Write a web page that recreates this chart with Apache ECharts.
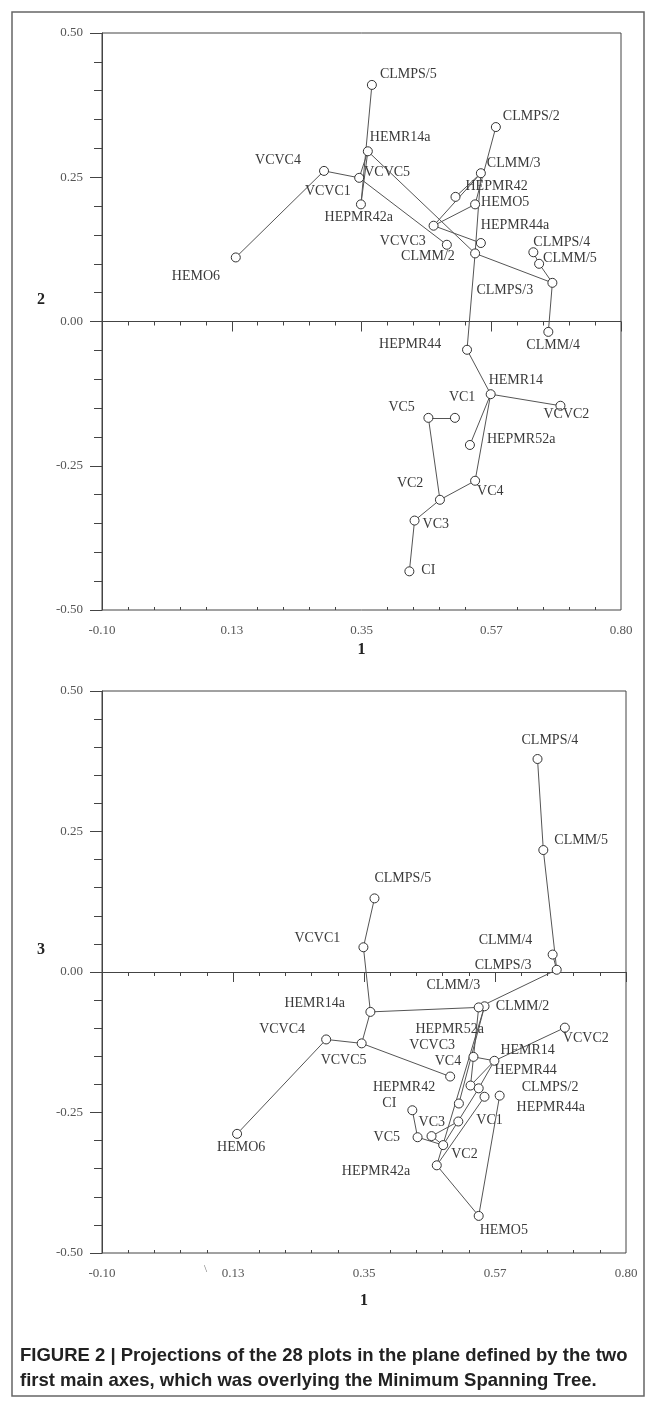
<!DOCTYPE html>
<html>
<head>
<meta charset="utf-8">
<script src="https://cdn.jsdelivr.net/npm/echarts@6/dist/echarts.min.js"></script>
<style>
  html, body { margin: 0; padding: 0; background: #fff; }
  #chart { width: 656px; height: 1402px; }
</style>
</head>
<body>
<div id="chart"></div>
<script>
// 28 plots, coordinates on the three main axes
const names = ['CLMPS/5', 'HEMR14a', 'VCVC4', 'VCVC5', 'VCVC1', 'HEMO6', 'CLMPS/2', 'CLMM/3', 'HEPMR42', 'HEMO5',
  'HEPMR42a', 'VCVC3', 'HEPMR44a', 'CLMM/2', 'CLMPS/4', 'CLMM/5', 'CLMPS/3', 'CLMM/4', 'HEPMR44', 'HEMR14',
  'VC5', 'VC1', 'VCVC2', 'HEPMR52a', 'VC4', 'VC2', 'VC3', 'CI']
const axis1 = [0.368, 0.361, 0.285, 0.346, 0.349, 0.132, 0.583, 0.557, 0.513, 0.547,
  0.475, 0.498, 0.557, 0.547, 0.648, 0.658, 0.681, 0.674, 0.533, 0.574,
  0.466, 0.512, 0.695, 0.538, 0.547, 0.486, 0.442, 0.433]
const axis2 = [0.410, 0.295, 0.261, 0.249, 0.203, 0.111, 0.337, 0.257, 0.216, 0.203,
  0.166, 0.133, 0.136, 0.118, 0.120, 0.100, 0.067, -0.018, -0.049, -0.126,
  -0.167, -0.167, -0.146, -0.214, -0.276, -0.309, -0.345, -0.433]
const axis3 = [0.131, -0.071, -0.120, -0.127, 0.044, -0.288, -0.220, -0.061, -0.234, -0.434,
  -0.344, -0.186, -0.222, -0.063, 0.379, 0.217, 0.004, 0.031, -0.202, -0.158,
  -0.292, -0.266, -0.099, -0.151, -0.207, -0.308, -0.294, -0.246]

// minimum spanning tree
const edges = [
  ['CLMPS/5', 'VCVC1'], ['VCVC1', 'HEMR14a'], ['HEMR14a', 'VCVC5'], ['VCVC5', 'VCVC4'], ['VCVC4', 'HEMO6'],
  ['VCVC5', 'VCVC3'], ['HEMR14a', 'CLMM/2'], ['CLMM/2', 'CLMPS/3'], ['CLMPS/3', 'CLMM/5'], ['CLMM/5', 'CLMPS/4'],
  ['CLMPS/3', 'CLMM/4'], ['CLMPS/2', 'HEMO5'], ['HEMO5', 'HEPMR42a'], ['CLMM/3', 'HEPMR42a'], ['HEPMR42a', 'HEPMR44a'],
  ['CLMM/3', 'HEPMR42'], ['CLMM/3', 'CLMM/2'], ['CLMM/2', 'HEPMR44'], ['HEPMR44', 'HEMR14'], ['HEMR14', 'VCVC2'],
  ['HEMR14', 'HEPMR52a'], ['HEMR14', 'VC4'], ['VC4', 'VC2'], ['VC2', 'VC3'], ['VC3', 'CI'],
  ['VC2', 'VC5'], ['VC5', 'VC1']
]

const xTickLabels = ['-0.10', '0.13', '0.35', '0.57', '0.80']
const yTickLabels = ['-0.50', '-0.25', '0.00', '0.25', '0.50']

// label placement (pixel offsets from the point), per panel
const labelOffsetTop = {
  'CLMPS/5': [8, -11], 'HEMR14a': [2, -14], 'VCVC4': [-69, -11], 'VCVC5': [5, -5], 'VCVC1': [-56, -13],
  'HEMO6': [-64, 19], 'CLMPS/2': [7, -11], 'CLMM/3': [6, -10], 'HEPMR42': [10, -11], 'HEMO5': [6, -2],
  'HEPMR42a': [-109, -8], 'VCVC3': [-67, -3], 'HEPMR44a': [0, -18], 'CLMM/2': [-74, 3], 'CLMPS/4': [0, -10],
  'CLMM/5': [4, -5], 'CLMPS/3': [-76, 7], 'CLMM/4': [-22, 13], 'HEPMR44': [-88, -5], 'HEMR14': [-2, -14],
  'VC5': [-40, -11], 'VC1': [-6, -21], 'VCVC2': [-17, 9], 'HEPMR52a': [17, -6], 'VC4': [2, 11],
  'VC2': [-43, -16], 'VC3': [8, 4], 'CI': [12, -1]
}
const labelOffsetBottom = {
  'CLMPS/4': [-16, -19], 'CLMM/5': [11, -10], 'CLMM/4': [-74, -14], 'CLMPS/3': [-82, -4], 'CLMPS/5': [0, -20],
  'VCVC1': [-69, -9], 'HEMR14a': [-86, -9], 'CLMM/3': [-58, -21], 'CLMM/2': [17, -1], 'VCVC2': [-2, 11],
  'VCVC4': [-67, -10], 'VCVC5': [-41, 17], 'HEMO6': [-20, 13], 'CI': [-30, -7], 'VC3': [1, -15],
  'VC5': [-58, 1], 'HEMO5': [1, 14], 'HEMR14': [6, -10], 'HEPMR52a': [-58, -28], 'VCVC3': [-41, -31],
  'HEPMR44': [24, -15], 'VC4': [-44, -27], 'CLMPS/2': [22, -8], 'HEPMR42': [-86, -16], 'VC1': [18, -1],
  'VC2': [8, 9], 'HEPMR42a': [-95, 6], 'HEPMR44a': [32, 11]
}

const X0 = -0.1 // axis 1 starts here; the scale is shifted so min is a multiple of the interval
const XSTEP = 0.225
const SERIF = '"Liberation Serif", "DejaVu Serif", serif'
const INK = '#3a3a3a'
const CAPTION_FONT = 'bold 18.5px "Liberation Sans", Arial, sans-serif'

function nodes(yValues, offsets) {
  return names.map((n, i) => ({
    name: n,
    value: [axis1[i] - X0, yValues[i]],
    label: { offset: offsets[n] }
  }))
}

function xAxes(gridIndex, nameGap) {
  const base = {
    gridIndex: gridIndex,
    type: 'value',
    min: 0,
    max: 0.9,
    interval: XSTEP,
    splitLine: { show: false }
  }
  return [
    Object.assign({}, base, {
      name: '1',
      nameLocation: 'middle',
      nameGap: nameGap,
      nameTextStyle: { fontFamily: SERIF, fontWeight: 'bold', fontSize: 16, color: '#222' },
      axisLine: { show: true, lineStyle: { color: '#444', width: 1 } },
      axisTick: { show: true, length: 10, lineStyle: { color: '#444' } },
      minorTick: { show: true, splitNumber: 5, length: 4, lineStyle: { color: '#444' } },
      axisLabel: {
        margin: 14, fontFamily: SERIF, fontSize: 13, color: '#555',
        formatter: v => xTickLabels[Math.round(v / XSTEP)]
      }
    }),
    // second copy only to draw the minor ticks crossing into the plot
    Object.assign({}, base, {
      position: 'bottom',
      axisLine: { show: false },
      axisTick: { show: false, inside: true },
      minorTick: { show: true, splitNumber: 5, length: 3, lineStyle: { color: '#444' } },
      axisLabel: { show: false }
    })
  ]
}

function yAxis(gridIndex) {
  return {
    gridIndex: gridIndex,
    type: 'value',
    min: -0.5,
    max: 0.5,
    interval: 0.25,
    splitLine: { show: false },
    axisLine: { show: true, lineStyle: { color: '#444', width: 1 } },
    axisTick: { show: true, length: 12, lineStyle: { color: '#444' } },
    minorTick: { show: true, splitNumber: 5, length: 8, lineStyle: { color: '#444' } },
    axisLabel: {
      margin: 19, fontFamily: SERIF, fontSize: 13, color: '#555',
      formatter: v => yTickLabels[Math.round((v + 0.5) / 0.25)]
    }
  }
}

function treeSeries(xIndex, yIndex, yValues, offsets) {
  return {
    type: 'graph',
    coordinateSystem: 'cartesian2d',
    xAxisIndex: xIndex,
    yAxisIndex: yIndex,
    symbol: 'circle',
    symbolSize: 9,
    itemStyle: { color: '#fff', borderColor: '#333', borderWidth: 1 },
    lineStyle: { color: '#555', width: 1, opacity: 1, curveness: 0 },
    label: {
      show: true,
      position: 'inside',
      align: 'left',
      verticalAlign: 'middle',
      fontFamily: SERIF,
      fontSize: 14,
      color: INK,
      formatter: '{b}'
    },
    emphasis: { disabled: true },
    data: nodes(yValues, offsets),
    links: edges.map(e => ({ source: e[0], target: e[1] }))
  }
}

const chart = echarts.init(document.getElementById('chart'), null, { renderer: 'canvas' })

chart.setOption({
  animation: false,
  backgroundColor: '#fff',
  grid: [
    { left: 102, top: 33, width: 519, height: 577, show: true, borderColor: '#444', borderWidth: 1 },
    { left: 102, top: 691, width: 524, height: 562, show: true, borderColor: '#444', borderWidth: 1 }
  ],
  xAxis: xAxes(0, 32).concat(xAxes(1, 40)),
  yAxis: [yAxis(0), yAxis(1)],
  series: [
    treeSeries(0, 0, axis2, labelOffsetTop),
    treeSeries(2, 1, axis3, labelOffsetBottom)
  ],
  graphic: [
    {
      type: 'rect', silent: true, z: -1,
      shape: { x: 12, y: 12, width: 632, height: 1384 },
      style: { fill: 'none', stroke: '#666', lineWidth: 1.5 }
    },
    {
      type: 'text', left: 37, top: 292,
      style: { text: '2', font: 'bold 16px ' + SERIF, fill: '#222' }
    },
    {
      type: 'text', left: 37, top: 942,
      style: { text: '3', font: 'bold 16px ' + SERIF, fill: '#222' }
    },
    {
      type: 'text', left: 204, top: 1264,
      style: { text: '\\', font: '11px ' + SERIF, fill: '#777' }
    },
    {
      type: 'text', left: 20, top: 1346,
      style: {
        text: 'FIGURE 2 | Projections of the 28 plots in the plane defined by the two',
        font: CAPTION_FONT, fill: '#222'
      }
    },
    {
      type: 'text', left: 20, top: 1371,
      style: {
        text: 'first main axes, which was overlying the Minimum Spanning Tree.',
        font: CAPTION_FONT, fill: '#222'
      }
    }
  ]
})
</script>
</body>
</html>
